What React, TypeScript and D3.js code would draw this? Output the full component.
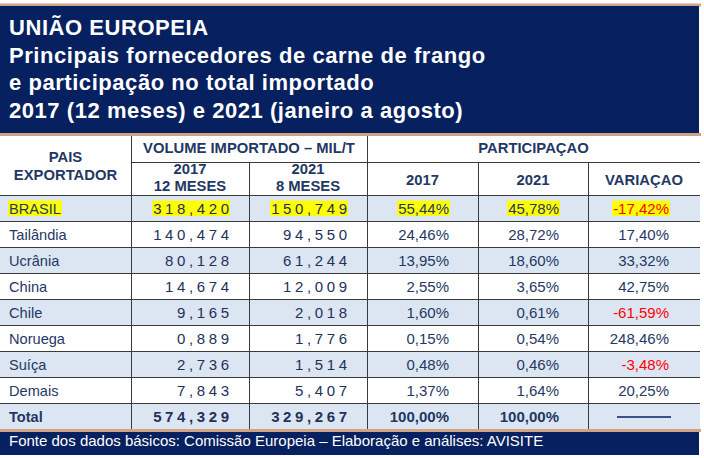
import React, { useEffect, useRef } from "react";
import * as d3 from "d3";

// ---------- data ----------
const titleLines = [
  "UNIÃO EUROPEIA",
  "Principais fornecedores de carne de frango",
  "e participação no total importado",
  "2017 (12 meses) e 2021 (janeiro a agosto)",
];
const countries = ["BRASIL", "Tailândia", "Ucrânia", "China", "Chile", "Noruega", "Suíça", "Demais"];
const vol2017 = [318.42, 140.474, 80.128, 14.674, 9.165, 0.889, 2.736, 7.843];
const vol2021 = [150.749, 94.55, 61.244, 12.009, 2.018, 1.776, 1.514, 5.407];
const share2017 = [55.44, 24.46, 13.95, 2.55, 1.6, 0.15, 0.48, 1.37];
const share2021 = [45.78, 28.72, 18.6, 3.65, 0.61, 0.54, 0.46, 1.64];
const variation = [-17.42, 17.4, 33.32, 42.75, -61.59, 248.46, -3.48, 20.25];
const totalLabel = "Total";
const totalVol2017 = 574.329;
const totalVol2021 = 329.267;
const totalShare2017 = 100;
const totalShare2021 = 100;
const highlighted = "BRASIL";
const headerCountry = ["PAIS", "EXPORTADOR"];
const headerVolume = "VOLUME IMPORTADO – MIL/T";
const headerVolCols = [["2017", "12 MESES"], ["2021", "8 MESES"]];
const headerShare = "PARTICIPAÇAO";
const headerShareCols = ["2017", "2021", "VARIAÇAO"];
const footerText = "Fonte dos dados básicos: Comissão Europeia – Elaboração e análises: AVISITE";

// ---------- style ----------
const W = 704;
const H = 458;
const NAVY = "#062060";
const TAN = "#cfa383";
const LIGHT = "#dce6f2";
const TXT = "#1f3864";
const NUM = "#23305a";
const RED = "#ff0000";
const YEL = "#ffff00";
const FONT = "'Liberation Sans', Arial, sans-serif";

const loc = d3.formatLocale({ decimal: ",", thousands: ".", grouping: [3], currency: ["", ""], minus: "-" });
const fmtVol = loc.format(".3f");
const fmtPct = (v: number) => loc.format(".2f")(v) + "%";

export default function App() {
  const ref = useRef<SVGSVGElement>(null);

  useEffect(() => {
    document.body.style.margin = "0";
    const svg = d3.select(ref.current!);
    svg.selectAll("*").remove();

    const colEdges = [0, 131, 249, 367, 478, 588, 700];
    const rowNames = [...countries, totalLabel];
    const y = d3.scaleBand<string>().domain(rowNames).range([195, 429]).padding(0);
    const step = y.bandwidth();

    // title block
    svg.append("rect").attr("x", 0).attr("y", 3.5).attr("width", 701).attr("height", 3).attr("fill", TAN);
    svg.append("rect").attr("x", 0).attr("y", 6).attr("width", 699).attr("height", 127).attr("fill", NAVY);
    svg.append("rect").attr("x", 0).attr("y", 133).attr("width", 701).attr("height", 3).attr("fill", TAN);
    svg
      .selectAll("text.title")
      .data(titleLines)
      .join("text")
      .attr("class", "title")
      .attr("x", 9)
      .attr("y", (_d, i) => 35 + i * 27.7)
      .attr("fill", "#ffffff")
      .attr("font-family", FONT)
      .attr("font-weight", "bold")
      .attr("font-size", 22)
      .attr("letter-spacing", 0.55)
      .text((d) => d);

    // row backgrounds
    svg
      .selectAll("rect.rowbg")
      .data(rowNames)
      .join("rect")
      .attr("class", "rowbg")
      .attr("x", 0)
      .attr("y", (d) => y(d)!)
      .attr("width", 700)
      .attr("height", step)
      .attr("fill", (_d, i) => (i % 2 === 0 ? LIGHT : "#ffffff"));

    // grid lines
    const gl = svg.append("g").attr("stroke", "#3a3a3a").attr("stroke-width", 1).attr("shape-rendering", "crispEdges");
    gl.append("line").attr("x1", colEdges[1]).attr("x2", 700).attr("y1", 162.5).attr("y2", 162.5);
    gl.selectAll("line.h")
      .data(rowNames)
      .join("line")
      .attr("class", "h")
      .attr("x1", 0)
      .attr("x2", 700)
      .attr("y1", (d) => Math.round(y(d)!) + 0.5)
      .attr("y2", (d) => Math.round(y(d)!) + 0.5);
    const vlines = [
      { x: colEdges[1], top: 136 },
      { x: colEdges[2], top: 162 },
      { x: colEdges[3], top: 136 },
      { x: colEdges[4], top: 162 },
      { x: colEdges[5], top: 162 },
    ];
    gl.selectAll("line.v")
      .data(vlines)
      .join("line")
      .attr("class", "v")
      .attr("x1", (d) => d.x + 0.5)
      .attr("x2", (d) => d.x + 0.5)
      .attr("y1", (d) => d.top)
      .attr("y2", 429);

    // header text
    const hdr = (x: number, yy: number, t: string) =>
      svg
        .append("text")
        .attr("x", x)
        .attr("y", yy)
        .attr("text-anchor", "middle")
        .attr("fill", TXT)
        .attr("font-family", FONT)
        .attr("font-weight", "bold")
        .attr("font-size", 14.8)
        .text(t);
    const mid = (a: number, b: number) => (colEdges[a] + colEdges[b]) / 2;
    hdr(mid(0, 1), 162, headerCountry[0]);
    hdr(mid(0, 1), 180, headerCountry[1]);
    hdr(mid(1, 3), 153, headerVolume);
    hdr(mid(3, 6), 153, headerShare);
    headerVolCols.forEach((lines, i) => {
      hdr(mid(1 + i, 2 + i), 174, lines[0]);
      hdr(mid(1 + i, 2 + i), 191, lines[1]);
    });
    headerShareCols.forEach((t, i) => hdr(mid(3 + i, 4 + i), 185, t));

    // body cells
    type Cell = { text: string; x: number; anchor: string; ls: number; color: string; kind: string };
    const rows = rowNames.map((name, i) => {
      const isTotal = name === totalLabel;
      const v17 = isTotal ? totalVol2017 : vol2017[i];
      const v21 = isTotal ? totalVol2021 : vol2021[i];
      const s17 = isTotal ? totalShare2017 : share2017[i];
      const s21 = isTotal ? totalShare2021 : share2021[i];
      const cells: Cell[] = [
        { text: name, x: 9, anchor: "start", ls: 0, color: TXT, kind: "name" },
        { text: fmtVol(v17), x: colEdges[2] - 20, anchor: "end", ls: 3.6, color: NUM, kind: "vol" },
        { text: fmtVol(v21), x: colEdges[3] - 20, anchor: "end", ls: 3.6, color: NUM, kind: "vol" },
        { text: fmtPct(s17), x: colEdges[4] - 29, anchor: "end", ls: 0, color: TXT, kind: "pct" },
        { text: fmtPct(s21), x: colEdges[5] - 29, anchor: "end", ls: 0, color: TXT, kind: "pct" },
      ];
      if (!isTotal) {
        const v = variation[i];
        cells.push({ text: fmtPct(v), x: colEdges[6] - 31, anchor: "end", ls: 0, color: v < 0 ? RED : TXT, kind: "pct" });
      }
      return { name, isTotal, cells };
    });

    rows.forEach((r) => {
      const g = svg.append("g");
      const base = y(r.name)! + step / 2 + 5.5;
      r.cells.forEach((c) => {
        const t = g
          .append("text")
          .attr("x", c.anchor === "end" ? c.x + c.ls : c.x)
          .attr("y", base)
          .attr("text-anchor", c.anchor)
          .attr("fill", c.color)
          .attr("font-family", FONT)
          .attr("font-size", c.kind === "name" ? 14.6 : 15)
          .attr("font-weight", r.isTotal ? "bold" : "normal")
          .attr("letter-spacing", c.ls)
          .text(c.text);
        if (r.name === highlighted) {
          const bb = (t.node() as SVGTextElement).getBBox();
          const w = bb.width - c.ls;
          const x0 = c.anchor === "end" ? c.x - w : c.x;
          g.insert("rect", "text")
            .attr("x", x0 - 1)
            .attr("y", base - 13)
            .attr("width", w + 2)
            .attr("height", 15.5)
            .attr("fill", YEL);
        }
      });
      if (r.isTotal) {
        g.append("line")
          .attr("x1", colEdges[6] - 83)
          .attr("x2", colEdges[6] - 29)
          .attr("y1", y(r.name)! + step / 2 + 1)
          .attr("y2", y(r.name)! + step / 2 + 1)
          .attr("stroke", NAVY)
          .attr("stroke-width", 1.5);
      }
    });

    // footer
    svg.append("rect").attr("x", 0).attr("y", 429).attr("width", 701).attr("height", 3).attr("fill", TAN);
    svg.append("rect").attr("x", 0).attr("y", 432).attr("width", 699).attr("height", 23).attr("fill", NAVY);
    svg
      .append("text")
      .attr("x", 9)
      .attr("y", 446)
      .attr("fill", "#ffffff")
      .attr("font-family", FONT)
      .attr("font-size", 15)
      .text(footerText);
  }, []);

  return <svg ref={ref} width={W} height={H} style={{ display: "block", background: "#ffffff" }} />;
}
